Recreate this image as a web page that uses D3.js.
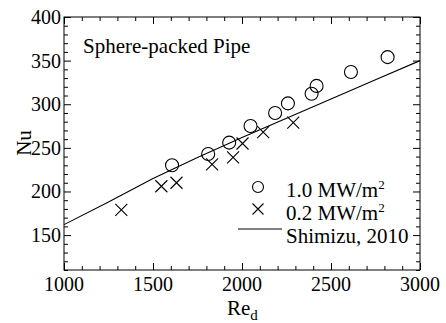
<!DOCTYPE html>
<html>
  <head>
    <meta charset="utf-8">
    <script src="https://d3js.org/d3.v7.min.js"></script>
    <style>
      body { margin: 0px; background: #fff; }
      text { font-family: "Liberation Serif", "Times New Roman", serif; fill: #000; }
      .tick-label { font-size: 20px; }
      .axis-label { font-size: 21px; }
      .legend-text { font-size: 21px; }
    </style>
  </head>
  <body>
    <svg width="446" height="323"></svg>
    <script>
      // 1.0 MW/m2 (circles)
      const highRe = [1607, 1810, 1928, 2048, 2186, 2258, 2391, 2419, 2612, 2818];
      const highNu = [230, 243, 256, 275, 290, 301, 312, 321, 337, 354];
      // 0.2 MW/m2 (crosses)
      const lowRe = [1322, 1547, 1632, 1832, 1950, 2003, 2119, 2288];
      const lowNu = [179, 206, 210, 231, 239, 255, 268, 279];
      // Shimizu, 2010 correlation
      const corrRe = [1000, 1250, 1500, 1750, 2000, 2250, 2500, 2750, 3000];
      const corrNu = [162, 188, 215, 239, 262, 284, 306, 328, 350];

      const xTicks = [1000, 1500, 2000, 2500, 3000];
      const yTicks = [150, 200, 250, 300, 350, 400];

      const margin = { left: 64, right: 26, top: 17, bottom: 53 };
      const svg = d3.select('svg');
      const width = +svg.attr('width');
      const height = +svg.attr('height');
      const innerWidth = width - margin.left - margin.right;
      const innerHeight = height - margin.top - margin.bottom;

      const g = svg.append('g')
          .attr('transform', `translate(${margin.left},${margin.top})`);

      const xScale = d3.scaleLinear().domain([1000, 3000]).range([0, innerWidth]);
      const yScale = d3.scaleLinear().domain([110, 400]).range([innerHeight, 0]);

      const xMinor = d3.range(1000, 3001, 100).filter(v => v % 500 !== 0);
      const yMinor = d3.range(110, 401, 10).filter(v => v % 50 !== 0);

      // inward ticks on all four sides
      const mkAxis = (axisFn, scale, vals, size) => axisFn(scale)
          .tickValues(vals).tickSize(size).tickFormat('');
      const axes = [
        [d3.axisBottom, xScale, `translate(0,${innerHeight})`],
        [d3.axisTop, xScale, 'translate(0,0)'],
        [d3.axisLeft, yScale, 'translate(0,0)'],
        [d3.axisRight, yScale, `translate(${innerWidth},0)`]
      ];
      axes.forEach(([fn, sc, tr]) => {
        const isX = sc === xScale;
        g.append('g').attr('transform', tr)
          .call(mkAxis(fn, sc, isX ? xTicks : yTicks, -7));
        g.append('g').attr('transform', tr)
          .call(mkAxis(fn, sc, isX ? xMinor : yMinor, -4));
      });
      g.selectAll('.domain').remove();
      g.selectAll('.tick text').remove();
      g.selectAll('.tick line').attr('stroke', '#000').attr('stroke-width', 1);

      g.append('rect')
          .attr('width', innerWidth).attr('height', innerHeight)
          .attr('fill', 'none').attr('stroke', '#000').attr('stroke-width', 1);

      // tick labels
      g.selectAll('.xlab').data(xTicks).enter().append('text')
          .attr('class', 'tick-label')
          .attr('x', d => xScale(d))
          .attr('y', innerHeight + 21)
          .attr('text-anchor', 'middle')
          .text(d => d);
      g.selectAll('.ylab').data(yTicks).enter().append('text')
          .attr('class', 'tick-label')
          .attr('x', -3)
          .attr('y', d => yScale(d) + 7)
          .attr('text-anchor', 'end')
          .text(d => d);

      // axis titles
      const xt = svg.append('text').attr('class', 'axis-label')
          .attr('x', 227).attr('y', 315);
      xt.append('tspan').text('Re');
      xt.append('tspan').attr('dy', 5).style('font-size', '15px').text('d');

      svg.append('text').attr('class', 'axis-label')
          .attr('transform', 'translate(31,143) rotate(-90)')
          .attr('text-anchor', 'middle')
          .text('Nu');

      // correlation line
      const line = d3.line().x(d => xScale(d[0])).y(d => yScale(d[1]));
      g.append('path')
          .datum(corrRe.map((r, i) => [r, corrNu[i]]))
          .attr('d', line)
          .attr('fill', 'none').attr('stroke', '#000').attr('stroke-width', 1.1);

      // circles
      g.selectAll('.hi').data(highRe).enter().append('circle')
          .attr('cx', d => xScale(d))
          .attr('cy', (d, i) => yScale(highNu[i]))
          .attr('r', 6.5)
          .attr('fill', 'none').attr('stroke', '#000').attr('stroke-width', 1.1);

      // crosses
      const cross = s => `M${-s},${-s}L${s},${s}M${-s},${s}L${s},${-s}`;
      g.selectAll('.lo').data(lowRe).enter().append('path')
          .attr('transform', (d, i) => `translate(${xScale(d)},${yScale(lowNu[i])})`)
          .attr('d', cross(6))
          .attr('fill', 'none').attr('stroke', '#000').attr('stroke-width', 1.1);

      // title
      g.append('text').attr('class', 'legend-text')
          .attr('x', 19).attr('y', 36)
          .text('Sphere-packed Pipe');

      // legend
      const lg = svg.append('g');
      lg.append('circle').attr('cx', 258).attr('cy', 187).attr('r', 5.5)
          .attr('fill', 'none').attr('stroke', '#000').attr('stroke-width', 1.1);
      lg.append('path').attr('transform', 'translate(258,209)').attr('d', cross(5.5))
          .attr('fill', 'none').attr('stroke', '#000').attr('stroke-width', 1.1);
      lg.append('line').attr('x1', 238).attr('x2', 282).attr('y1', 229).attr('y2', 229)
          .attr('stroke', '#000').attr('stroke-width', 1);

      const legendRows = [['1.0 MW/m', '2', 197], ['0.2 MW/m', '2', 220], ['Shimizu, 2010', '', 243]];
      legendRows.forEach(([t, sup, y]) => {
        const tx = lg.append('text').attr('class', 'legend-text').attr('x', 286).attr('y', y);
        tx.append('tspan').text(t);
        if (sup) tx.append('tspan').attr('dy', -8).style('font-size', '13px').text(sup);
      });
    </script>
  </body>
</html>
